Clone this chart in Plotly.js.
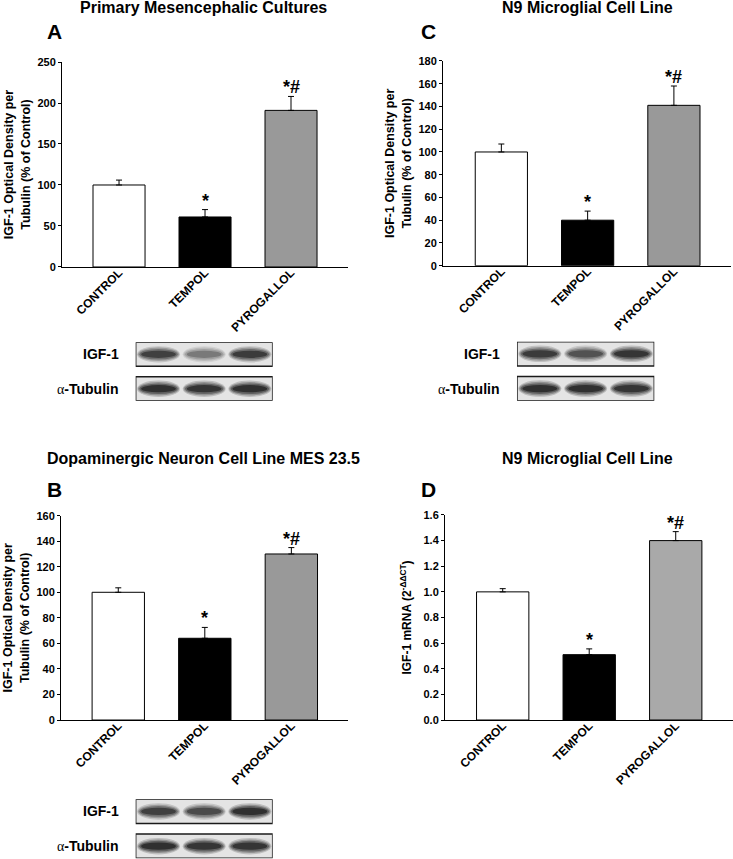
<!DOCTYPE html>
<html>
<head>
<meta charset="utf-8">
<script src="https://cdn.plot.ly/plotly-3.0.1.min.js"></script>
<style>
  body { margin: 0; background: #fff; }
  #chart { width: 733px; height: 859px; }
</style>
</head>
<body>
<div id="chart"></div>
<script>
// treatments
var cats = ['CONTROL', 'TEMPOL', 'PYROGALLOL'];
var sig = ['', '*', '*#'];

// A: primary mesencephalic cultures, IGF-1/tubulin (% of control)
var meanA = [100, 61, 191];
var errA = [6, 9, 17];
// C: N9 microglia, IGF-1/tubulin (% of control)
var meanC = [100, 40, 141];
var errC = [7, 8, 17];
// B: MES 23.5, IGF-1/tubulin (% of control)
var meanB = [100, 64, 130];
var errB = [3.5, 8.5, 5];
// D: N9 microglia, IGF-1 mRNA (2^-ddCT)
var meanD = [1.00, 0.51, 1.40];
var errD = [0.025, 0.045, 0.07];

// western blot band darkness per lane (0..1)
var blotA_igf = [0.85, 0.45, 0.9];
var blotA_tub = [1.0, 0.95, 1.0];
var blotC_igf = [0.9, 0.7, 0.95];
var blotC_tub = [1.0, 1.0, 0.95];
var blotB_igf = [0.85, 0.75, 1.0];
var blotB_tub = [1.0, 0.95, 0.95];

var FONT = 'Arial, "Liberation Sans", sans-serif';
var barColors = ['#ffffff', '#000000', '#999999'];
var barColorsD = ['#ffffff', '#000000', '#a9a9a9'];

function barTrace(means, errs, colors, xa, ya) {
    return {
        type: 'bar',
        x: cats,
        y: means,
        xaxis: xa,
        yaxis: ya,
        width: 0.605,
        marker: {color: colors, line: {color: '#000', width: 1}},
        error_y: {
            type: 'data',
            symmetric: false,
            array: errs,
            arrayminus: [0, 0, 0],
            color: '#000',
            thickness: 1,
            width: 3
        },
        hoverinfo: 'skip',
        showlegend: false
    };
}

var data = [
    barTrace(meanA, errA, barColors, 'x', 'y'),
    barTrace(meanC, errC, barColors, 'x2', 'y2'),
    barTrace(meanB, errB, barColors, 'x3', 'y3'),
    barTrace(meanD, errD, barColorsD, 'x4', 'y4')
];

function catAxis(domain, range) {
    return {
        domain: domain,
        range: range,
        type: 'category',
        showline: true,
        linecolor: '#000',
        linewidth: 1,
        ticks: '',
        tickangle: -45,
        ticklabelstandoff: -7,
        tickfont: {family: FONT, size: 12, color: '#000', weight: 'bold'},
        showgrid: false,
        zeroline: false,
        fixedrange: true
    };
}

function valAxis(domain, range, dtick, fmt, title, anchor) {
    return {
        domain: domain,
        range: range,
        anchor: anchor,
        dtick: dtick,
        tickformat: fmt,
        showline: true,
        linecolor: '#000',
        linewidth: 1,
        ticks: 'outside',
        ticklen: 3,
        tickwidth: 1,
        tickcolor: '#000',
        tickfont: {family: FONT, size: 11, color: '#000', weight: 'bold'},
        showgrid: false,
        zeroline: false,
        title: {text: title, standoff: 4, font: {family: FONT, size: 12.5, color: '#000', weight: 'bold'}},
        fixedrange: true
    };
}

function blotAxes(xd, yd) {
    return [
        {domain: xd, range: [0, 3], visible: false, fixedrange: true},
        {domain: yd, range: [0, 2.433], visible: false, fixedrange: true}
    ];
}

var odTitle = 'IGF-1 Optical Density per<br>Tubulin (% of Control)';

var layout = {
    width: 733,
    height: 859,
    margin: {l: 0, r: 0, t: 0, b: 0},
    paper_bgcolor: '#fff',
    plot_bgcolor: 'rgba(0,0,0,0)',
    font: {family: FONT, color: '#000'},
    bargap: 0,
    xaxis: catAxis([0.0846, 0.4748], [-0.663, 2.663]),
    yaxis: valAxis([0.6892, 0.9278], [0, 250], 50, 'd', odTitle, 'x'),
    xaxis2: catAxis([0.6044, 0.9973], [-0.676, 2.662]),
    yaxis2: valAxis([0.6907, 0.9290], [0, 180], 20, 'd', odTitle, 'x2'),
    xaxis3: catAxis([0.0832, 0.4748], [-0.662, 2.655]),
    yaxis3: valAxis([0.1618, 0.3997], [0, 160], 20, 'd', odTitle, 'x3'),
    xaxis4: catAxis([0.6071, 1.0], [-0.667, 2.662]),
    yaxis4: valAxis([0.1618, 0.4005], [0, 1.6], 0.2, '.1f',
        'IGF-1 mRNA (2<sup>-ΔΔCT</sup>)', 'x4'),
    shapes: [],
    annotations: []
};
layout.yaxis4.title.font.size = 12;
layout.yaxis4.title.standoff = 9;

layout.xaxis.anchor = 'y';
layout.xaxis2.anchor = 'y2';
layout.xaxis3.anchor = 'y3';
layout.xaxis4.anchor = 'y4';

var blotDomains = {
    A: [[0.1851, 0.3720], [0.5335, 0.6015]],
    C: [[0.7053, 0.8926], [0.5335, 0.6022]],
    B: [[0.1851, 0.3720], [0.0008, 0.0695]]
};
var bA = blotAxes(blotDomains.A[0], blotDomains.A[1]);
var bC = blotAxes(blotDomains.C[0], blotDomains.C[1]);
var bB = blotAxes(blotDomains.B[0], blotDomains.B[1]);
layout.xaxis5 = bA[0]; layout.yaxis5 = bA[1]; layout.xaxis5.anchor = 'y5'; layout.yaxis5.anchor = 'x5';
layout.xaxis6 = bC[0]; layout.yaxis6 = bC[1]; layout.xaxis6.anchor = 'y6'; layout.yaxis6.anchor = 'x6';
layout.xaxis7 = bB[0]; layout.yaxis7 = bB[1]; layout.xaxis7.anchor = 'y7'; layout.yaxis7.anchor = 'x7';

// significance marks above each bar
function addSig(means, errs, xa, ya) {
    for (var i = 0; i < cats.length; i++) {
        if (!sig[i]) continue;
        layout.annotations.push({
            xref: xa, yref: ya,
            x: cats[i], y: means[i] + errs[i],
            text: sig[i],
            showarrow: false,
            yanchor: 'bottom',
            yshift: -3,
            font: {family: FONT, size: 18, color: '#000', weight: 'bold'}
        });
    }
}
addSig(meanA, errA, 'x', 'y');
addSig(meanC, errC, 'x2', 'y2');
addSig(meanB, errB, 'x3', 'y3');
addSig(meanD, errD, 'x4', 'y4');

// blots: two strips, IGF-1 on top, tubulin below
var rows = {igf: [1.433, 2.433], tub: [0, 1]};
var yTop = 2.433;
var bandLayers = [
    {sx: 0.47, sy: 0.34, op: 0.18},
    {sx: 0.45, sy: 0.28, op: 0.25},
    {sx: 0.42, sy: 0.22, op: 0.35},
    {sx: 0.38, sy: 0.15, op: 0.55}
];

function addBlot(key, xa, ya, igf, tub) {
    var xd = blotDomains[key][0], yd = blotDomains[key][1];
    [['igf', igf, 'IGF-1'],
     ['tub', tub, '<span style="font-family:Liberation Serif;font-weight:normal">α</span>-Tubulin']].forEach(function (r) {
        var y0 = rows[r[0]][0], y1 = rows[r[0]][1];
        layout.shapes.push({
            type: 'rect', xref: xa, yref: ya,
            x0: 0, x1: 3, y0: y0, y1: y1,
            fillcolor: '#e4e4e4',
            line: {color: '#1a1a1a', width: 1.5},
            layer: 'above'
        });
        var yc = (y0 + y1) / 2;
        r[1].forEach(function (v, i) {
            bandLayers.forEach(function (b) {
                layout.shapes.push({
                    type: 'circle', xref: xa, yref: ya,
                    x0: i + 0.5 - b.sx, x1: i + 0.5 + b.sx,
                    y0: yc - b.sy, y1: yc + b.sy,
                    fillcolor: 'rgba(10,10,10,' + (b.op * v).toFixed(3) + ')',
                    line: {width: 0},
                    layer: 'above'
                });
            });
        });
        layout.annotations.push({
            xref: 'paper', yref: 'paper',
            x: xd[0] - 0.02, y: yd[0] + (yc / yTop) * (yd[1] - yd[0]),
            xanchor: 'right', yanchor: 'middle',
            text: r[2],
            showarrow: false,
            font: {family: FONT, size: 14, color: '#000', weight: 'bold'}
        });
    });
}
addBlot('A', 'x5', 'y5', blotA_igf, blotA_tub);
addBlot('C', 'x6', 'y6', blotC_igf, blotC_tub);
addBlot('B', 'x7', 'y7', blotB_igf, blotB_tub);

// panel titles and letters
var panels = [
    {t: 'Primary Mesencephalic Cultures', l: 'A', tx: 0.277, ty: 0.9907, lx: 0.075, ly: 0.9639},
    {t: 'N9 Microglial Cell Line', l: 'C', tx: 0.802, ty: 0.9907, lx: 0.585, ly: 0.9639},
    {t: 'Dopaminergic Neuron Cell Line MES 23.5', l: 'B', tx: 0.277, ty: 0.4657, lx: 0.075, ly: 0.4296},
    {t: 'N9 Microglial Cell Line', l: 'D', tx: 0.802, ty: 0.4657, lx: 0.585, ly: 0.4296}
];
panels.forEach(function (p) {
    layout.annotations.push({
        xref: 'paper', yref: 'paper', x: p.tx, y: p.ty,
        xanchor: 'center', yanchor: 'middle', showarrow: false,
        text: p.t,
        font: {family: FONT, size: 16, color: '#000', weight: 'bold'}
    });
    layout.annotations.push({
        xref: 'paper', yref: 'paper', x: p.lx, y: p.ly,
        xanchor: 'center', yanchor: 'middle', showarrow: false,
        text: p.l,
        font: {family: FONT, size: 21, color: '#000', weight: 'bold'}
    });
});

Plotly.newPlot('chart', data, layout, {displayModeBar: false, staticPlot: true});
</script>
</body>
</html>
